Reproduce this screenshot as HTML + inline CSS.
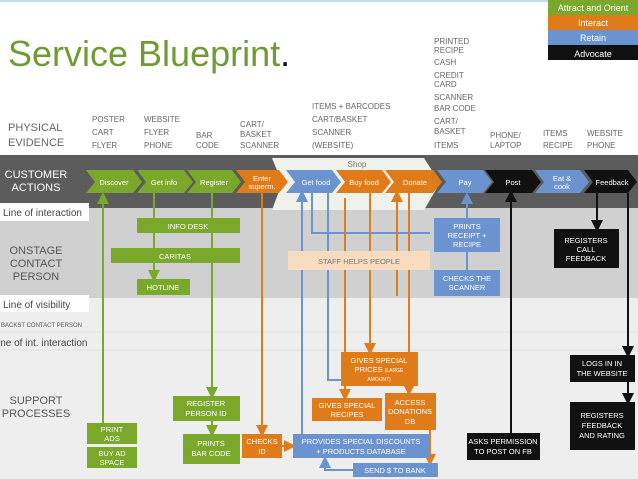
<!DOCTYPE html>
<html><head><style>body{margin:0;background:#fff}svg{display:block;font-family:"Liberation Sans",sans-serif}</style></head><body>
<svg width="638" height="479" viewBox="0 0 638 479" xmlns="http://www.w3.org/2000/svg">
<defs>
<marker id="ag" markerWidth="6" markerHeight="6" refX="3" refY="3" orient="auto"><path d="M0,0L6,3L0,6z" fill="#7aa82b"/></marker>
<marker id="ao" markerWidth="6" markerHeight="6" refX="3" refY="3" orient="auto"><path d="M0,0L6,3L0,6z" fill="#e07b1a"/></marker>
<marker id="ab" markerWidth="6" markerHeight="6" refX="3" refY="3" orient="auto"><path d="M0,0L6,3L0,6z" fill="#6a93cf"/></marker>
<marker id="ak" markerWidth="6" markerHeight="6" refX="3" refY="3" orient="auto"><path d="M0,0L6,3L0,6z" fill="#111"/></marker>
</defs>
<rect x="0" y="0" width="638" height="2" fill="#bfe0e8"/>
<rect x="0" y="155" width="638" height="53" fill="#5c5c5c"/>
<rect x="0" y="208" width="638" height="90" fill="#d0d0d0"/>
<rect x="0" y="298" width="638" height="181" fill="#eeeeee"/>
<line x1="0" y1="332" x2="638" y2="332" stroke="#e0e0e0"/>
<line x1="0" y1="350" x2="638" y2="350" stroke="#e0e0e0"/>
<rect x="0" y="203" width="89" height="18" fill="#fff"/>
<rect x="0" y="295" width="89" height="17" fill="#fff"/>
<text x="3" y="216" font-size="10" fill="#444">Line of interaction</text>
<text x="3" y="308" font-size="10" fill="#444">Line of visibility</text>
<text x="1" y="327" font-size="6" fill="#555">BACKST CONTACT PERSON</text>
<text x="-2" y="346" font-size="10" fill="#444">ine of int. interaction</text>
<text x="8" y="66" font-size="36" fill="#6f9a34">Service Blueprint<tspan fill="#111">.</tspan></text>
<rect x="548" y="0" width="90" height="15" fill="#7aa82b"/><text x="593" y="11" font-size="9" fill="#fff" text-anchor="middle">Attract and Orient</text>
<rect x="548" y="15" width="90" height="15" fill="#e07b1a"/><text x="593" y="26" font-size="9" fill="#fff" text-anchor="middle">Interact</text>
<rect x="548" y="30" width="90" height="15" fill="#6a93cf"/><text x="593" y="41" font-size="9" fill="#fff" text-anchor="middle">Retain</text>
<rect x="548" y="45" width="90" height="15" fill="#111"/><text x="593" y="57" font-size="9" fill="#fff" text-anchor="middle">Advocate</text>
<g font-size="8" fill="#666">
<text x="8" y="131" font-size="11">PHYSICAL</text><text x="8" y="146" font-size="11">EVIDENCE</text>
<text x="92" y="122">POSTER</text><text x="92" y="135">CART</text><text x="92" y="148">FLYER</text>
<text x="144" y="122">WEBSITE</text><text x="144" y="135">FLYER</text><text x="144" y="148">PHONE</text>
<text x="196" y="138">BAR</text><text x="196" y="148">CODE</text>
<text x="240" y="127">CART/</text><text x="240" y="137">BASKET</text><text x="240" y="148">SCANNER</text>
<text x="312" y="109">ITEMS + BARCODES</text><text x="312" y="122">CART/BASKET</text><text x="312" y="135">SCANNER</text><text x="312" y="148">(WEBSITE)</text>
<text x="434" y="44">PRINTED</text><text x="434" y="53">RECIPE</text><text x="434" y="65">CASH</text><text x="434" y="78">CREDIT</text><text x="434" y="87">CARD</text><text x="434" y="100">SCANNER</text><text x="434" y="111">BAR CODE</text><text x="434" y="124">CART/</text><text x="434" y="134">BASKET</text><text x="434" y="148">ITEMS</text>
<text x="490" y="138">PHONE/</text><text x="490" y="148">LAPTOP</text>
<text x="543" y="136">ITEMS</text><text x="543" y="148">RECIPE</text>
<text x="587" y="136">WEBSITE</text><text x="587" y="148">PHONE</text>
</g>
<text x="36" y="178" font-size="11" fill="#fff" text-anchor="middle">CUSTOMER</text>
<text x="36" y="191" font-size="11" fill="#fff" text-anchor="middle">ACTIONS</text>
<g font-size="11" fill="#555" text-anchor="middle">
<text x="36" y="254">ONSTAGE</text><text x="36" y="267">CONTACT</text><text x="36" y="280">PERSON</text>
<text x="36" y="404">SUPPORT</text><text x="36" y="417">PROCESSES</text>
</g>
<path d="M272,158 L424,158 L440,183 L424,210 L272,210 L282,183z" fill="#eef2ea"/>
<text x="357" y="167" font-size="8" fill="#777" text-anchor="middle">Shop</text>
<g font-size="7.5" fill="#fff" text-anchor="middle">
<path d="M86,170 L133,170 L142,182 L133,193 L86,193 L95,182z" fill="#7aa82b"/><text x="114" y="185">Discover</text>
<path d="M137,170 L184,170 L193,182 L184,193 L137,193 L146,182z" fill="#7aa82b"/><text x="164" y="185">Get info</text>
<path d="M187,170 L232,170 L241,182 L232,193 L187,193 L196,182z" fill="#7aa82b"/><text x="214" y="185">Register</text>
<path d="M236,170 L279,170 L288,182 L279,193 L236,193 L245,182z" fill="#e07b1a"/><text x="262" y="181">Enter</text><text x="262" y="189">superm.</text>
<path d="M286,170 L332,170 L341,182 L332,193 L286,193 L295,182z" fill="#6a93cf"/><text x="316" y="185">Get food</text>
<path d="M336,170 L382,170 L391,182 L382,193 L336,193 L345,182z" fill="#e07b1a"/><text x="364" y="185">Buy food</text>
<path d="M385,170 L433,170 L442,182 L433,193 L385,193 L394,182z" fill="#e07b1a"/><text x="415" y="185">Donate</text>
<path d="M437,170 L483,170 L492,182 L483,193 L437,193 L446,182z" fill="#6a93cf"/><text x="465" y="185">Pay</text>
<path d="M485,170 L532,170 L541,182 L532,193 L485,193 L494,182z" fill="#111"/><text x="513" y="185">Post</text>
<path d="M535,170 L580,170 L589,182 L580,193 L535,193 L544,182z" fill="#6a93cf"/><text x="562" y="181">Eat &amp;</text><text x="562" y="189">cook</text>
<path d="M584,170 L628,170 L637,182 L628,193 L584,193 L593,182z" fill="#111"/><text x="612" y="185">Feedback</text>
</g>
<g fill="none" stroke-width="2">
<line x1="103" y1="423" x2="103" y2="198" stroke="#7aa82b" marker-end="url(#ag)"/>
<line x1="154" y1="193" x2="154" y2="276" stroke="#7aa82b" marker-end="url(#ag)"/>
<line x1="212" y1="193" x2="212" y2="393" stroke="#7aa82b" marker-end="url(#ag)"/>
<line x1="212" y1="421" x2="212" y2="431" stroke="#7aa82b" marker-end="url(#ag)"/>
<line x1="262" y1="193" x2="262" y2="431" stroke="#e07b1a" marker-end="url(#ao)"/>
<line x1="282" y1="446" x2="290" y2="446" stroke="#e07b1a" marker-end="url(#ao)"/>
<line x1="302" y1="434" x2="302" y2="196" stroke="#6a93cf" marker-end="url(#ab)"/>
<polyline points="312,193 312,233 430,233" stroke="#6a93cf"/>
<polyline points="328,193 328,380 341,380" stroke="#6a93cf"/>
<line x1="345" y1="198" x2="345" y2="395" stroke="#e07b1a" marker-end="url(#ao)"/>
<line x1="370" y1="193" x2="370" y2="349" stroke="#e07b1a" marker-end="url(#ao)"/>
<line x1="397" y1="296" x2="397" y2="196" stroke="#e07b1a" marker-end="url(#ao)"/>
<line x1="409" y1="193" x2="409" y2="390" stroke="#e07b1a" marker-end="url(#ao)"/>
<line x1="430" y1="430" x2="430" y2="460" stroke="#e07b1a" marker-end="url(#ao)"/>
<polyline points="353,470 325,470 325,462" stroke="#6a93cf" marker-end="url(#ab)"/>
<line x1="467" y1="218" x2="467" y2="198" stroke="#6a93cf" marker-end="url(#ab)"/>
<line x1="467" y1="252" x2="467" y2="270" stroke="#6a93cf"/>
<line x1="511" y1="433" x2="511" y2="196" stroke="#111" marker-end="url(#ak)"/>
<line x1="597" y1="193" x2="597" y2="226" stroke="#111" marker-end="url(#ak)"/>
<line x1="628" y1="193" x2="628" y2="352" stroke="#111" marker-end="url(#ak)"/>
<line x1="628" y1="382" x2="628" y2="399" stroke="#111" marker-end="url(#ak)"/>
</g>
<g font-size="7.5" fill="#fff" text-anchor="middle">
<rect x="137" y="218" width="103" height="15" fill="#7aa82b"/><text x="188" y="229">INFO DESK</text>
<rect x="111" y="248" width="129" height="15" fill="#7aa82b"/><text x="175" y="259">CARITAS</text>
<rect x="137" y="279" width="53" height="16" fill="#7aa82b"/><text x="163" y="290">HOTLINE</text>
<rect x="288" y="251" width="142" height="19" fill="#f7dcbf"/><text x="359" y="264" fill="#777">STAFF HELPS PEOPLE</text>
<rect x="434" y="218" width="66" height="34" fill="#6a93cf"/><text x="467" y="229">PRINTS</text><text x="467" y="238">RECEIPT +</text><text x="467" y="247">RECIPE</text>
<rect x="434" y="270" width="66" height="26" fill="#6a93cf"/><text x="467" y="281">CHECKS THE</text><text x="467" y="290">SCANNER</text>
<rect x="554" y="229" width="65" height="39" fill="#111"/><text x="586" y="243">REGISTERS</text><text x="586" y="252">CALL</text><text x="586" y="261">FEEDBACK</text>
<rect x="87" y="423" width="50" height="21" fill="#7aa82b"/><text x="112" y="432">PRINT</text><text x="112" y="441">ADS</text>
<rect x="87" y="447" width="50" height="21" fill="#7aa82b"/><text x="112" y="456">BUY AD</text><text x="112" y="465">SPACE</text>
<rect x="173" y="396" width="67" height="25" fill="#7aa82b"/><text x="206" y="406">REGISTER</text><text x="206" y="416">PERSON ID</text>
<rect x="183" y="434" width="57" height="30" fill="#7aa82b"/><text x="211" y="446">PRINTS</text><text x="211" y="456">BAR CODE</text>
<rect x="242" y="434" width="40" height="24" fill="#e07b1a"/><text x="262" y="444">CHECKS</text><text x="262" y="454">ID</text>
<rect x="293" y="434" width="137" height="24" fill="#6a93cf"/><text x="361" y="444">PROVIDES SPECIAL DISCOUNTS</text><text x="361" y="454">+ PRODUCTS DATABASE</text>
<rect x="353" y="463" width="85" height="14" fill="#6a93cf"/><text x="395" y="473">SEND $ TO BANK</text>
<rect x="341" y="352" width="77" height="34" fill="#e07b1a"/><text x="379" y="363">GIVES SPECIAL</text><text x="379" y="372">PRICES <tspan font-size="5">(LARGE</tspan></text><text x="379" y="381" font-size="5">AMOUNT)</text>
<rect x="312" y="398" width="70" height="23" fill="#e07b1a"/><text x="347" y="408">GIVES SPECIAL</text><text x="347" y="417">RECIPES</text>
<rect x="385" y="393" width="51" height="37" fill="#e07b1a"/><text x="410" y="405">ACCESS</text><text x="410" y="414">DONATIONS</text><text x="410" y="424">DB</text>
<rect x="467" y="433" width="73" height="27" fill="#111"/><text x="503" y="444">ASKS PERMISSION</text><text x="503" y="454">TO POST ON FB</text>
<rect x="570" y="355" width="65" height="27" fill="#111"/><text x="602" y="366">LOGS IN IN</text><text x="602" y="376">THE WEBSITE</text>
<rect x="570" y="402" width="65" height="48" fill="#111"/><text x="602" y="418">REGISTERS</text><text x="602" y="428">FEEDBACK</text><text x="602" y="438">AND RATING</text>
</g>
</svg>
</body></html>
